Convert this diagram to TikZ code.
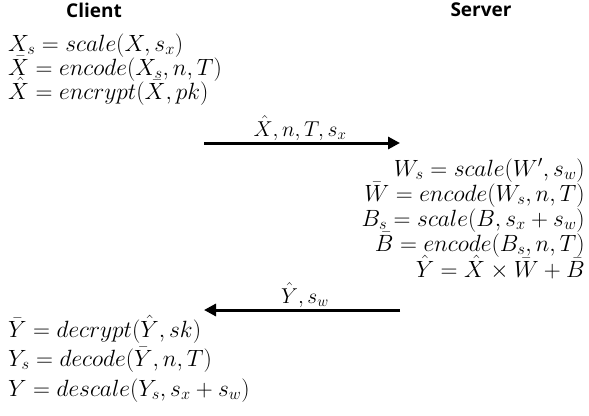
\RequirePackage{fix-cm}
\documentclass[tikz,border=0pt]{standalone}
\usepackage{fontspec}
\newfontfamily\hdfont{Open Sans}
\usetikzlibrary{arrows.meta}
\begin{document}
\begin{tikzpicture}[x=1pt,y=-1pt,
  hd/.style={inner sep=0pt, font=\hdfont\bfseries\fontsize{19}{21}\selectfont},
  eq/.style={inner sep=0pt, text height=16pt, text depth=5pt, font=\fontsize{23.5}{26}\selectfont},
  lbl/.style={inner sep=0pt, text height=15pt, text depth=4pt, font=\fontsize{21.5}{25}\selectfont, anchor=base},
  msg/.style={line width=3pt, -{Triangle[length=12pt,width=12pt]}}]
\useasboundingbox (0,0) rectangle (589,415);
\node[hd] (client) at (94,10) {Client};
\node[hd] (server) at (481,10) {Server};
% client
\node[eq,anchor=base west] (c1) at (8,51) {$X_s = scale(X, s_x)$};
\node[eq,anchor=base west] (c2) at (8,75) {$\bar X = encode(X_s, n, T)$};
\node[eq,anchor=base west] (c3) at (8,99) {$\hat X = encrypt(\bar X, pk)$};
% arrow 1
\coordinate (a1s) at (204,143);
\coordinate (a1e) at (400,143);
\draw[msg] (a1s) -- (a1e);
\node[lbl] (l1) at (300,136) {$\hat X, n, T, s_x$};
% server
\node[eq,anchor=base east] (s1) at (585,176) {$W_s = scale(W', s_w)$};
\node[eq,anchor=base east] (s2) at (585,201) {$\bar W = encode(W_s, n, T)$};
\node[eq,anchor=base east] (s3) at (585,226) {$B_s = scale(B, s_x + s_w)$};
\node[eq,anchor=base east] (s4) at (585,251) {$\bar B = encode(B_s, n, T)$};
\node[eq,anchor=base east] (s5) at (585,277) {$\hat Y = \hat X \times \bar W + \bar B$};
% arrow 2
\coordinate (a2s) at (400,310);
\coordinate (a2e) at (204,310);
\draw[msg] (a2s) -- (a2e);
\node[lbl] (l2) at (305,303) {$\hat Y, s_w$};
% client bottom
\node[eq,anchor=base west] (c4) at (8,337) {$\bar Y = decrypt(\hat Y, sk)$};
\node[eq,anchor=base west] (c5) at (8,366) {$Y_s = decode(\bar Y, n, T)$};
\node[eq,anchor=base west] (c6) at (8,396) {$Y = descale(Y_s, s_x + s_w)$};
\end{tikzpicture}
\end{document}
